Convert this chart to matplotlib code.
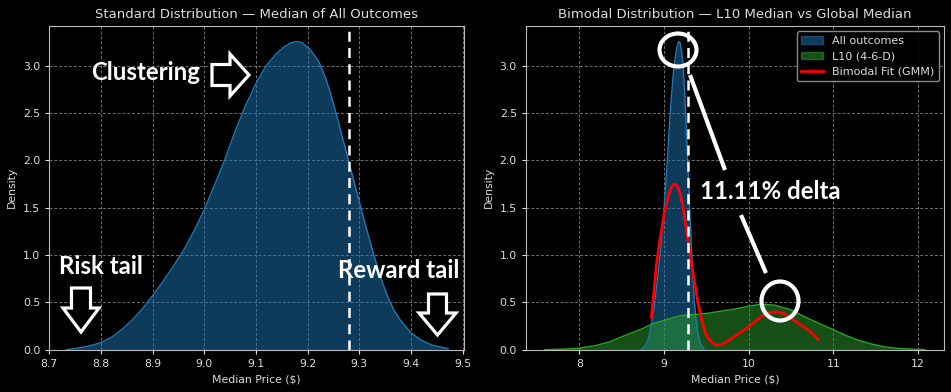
import numpy as np
import matplotlib.pyplot as plt
from matplotlib.patches import Polygon, Ellipse, Patch
from matplotlib.lines import Line2D

plt.style.use("dark_background")

# KDE of the median price, all outcomes
all_x = [8.733, 8.75, 8.769, 8.785, 8.80, 8.82, 8.84, 8.86, 8.88, 8.90, 8.92, 8.94, 8.96,
         8.98, 9.00, 9.02, 9.04, 9.06, 9.08, 9.10, 9.12, 9.14, 9.155, 9.17, 9.18, 9.19,
         9.205, 9.222, 9.235, 9.247, 9.259, 9.271, 9.283, 9.295, 9.307, 9.319, 9.331,
         9.343, 9.355, 9.367, 9.38, 9.40, 9.42, 9.44, 9.46, 9.472]
all_y = [0.0, 0.012, 0.03, 0.05, 0.075, 0.13, 0.21, 0.31, 0.43, 0.57, 0.72, 0.88, 1.05,
         1.25, 1.48, 1.74, 2.01, 2.31, 2.58, 2.81, 3.00, 3.13, 3.20, 3.245, 3.255, 3.24,
         3.17, 3.04, 2.87, 2.66, 2.42, 2.17, 1.92, 1.67, 1.42, 1.18, 0.95,
         0.74, 0.56, 0.42, 0.31, 0.18, 0.10, 0.05, 0.025, 0.012]

# KDE of the L10 (4-6-D) subset
l10_x = [7.59, 7.8, 8.0, 8.2, 8.35, 8.54, 8.74, 8.86, 9.0, 9.2, 9.52, 9.84, 10.0, 10.15,
         10.31, 10.5, 10.7, 10.85, 11.0, 11.15, 11.29, 11.45, 11.6, 11.8, 12.08]
l10_y = [0.0, 0.005, 0.015, 0.045, 0.08, 0.15, 0.22, 0.27, 0.31, 0.36, 0.385, 0.43, 0.46,
         0.48, 0.47, 0.42, 0.33, 0.27, 0.21, 0.15, 0.10, 0.06, 0.03, 0.01, 0.0]

# two-component GMM fit
gmm_x = [8.85, 8.88, 8.91, 8.95, 9.0, 9.05, 9.08, 9.10, 9.12, 9.14, 9.16, 9.19, 9.22,
         9.26, 9.32, 9.36, 9.40, 9.45, 9.49, 9.54, 9.58, 9.62, 9.66, 9.70, 9.75, 9.8,
         9.9, 10.0, 10.08, 10.15, 10.25, 10.33, 10.42, 10.5, 10.6, 10.7, 10.82]
gmm_y = [0.34, 0.60, 0.89, 1.15, 1.42, 1.62, 1.70, 1.73, 1.75, 1.745, 1.72, 1.65, 1.53,
         1.30, 0.95, 0.72, 0.50, 0.30, 0.17, 0.10, 0.07, 0.05, 0.05, 0.06, 0.09, 0.12,
         0.18, 0.24, 0.30, 0.35, 0.39, 0.40, 0.38, 0.33, 0.27, 0.21, 0.11]

global_median = 9.28

blue = "#1f77b4"
green = "#2ca02c"
lab_fs = 7.8

fig = plt.figure(figsize=(9.51, 3.92), dpi=100)
ax1 = fig.add_axes([0.0518, 0.108, 0.4362, 0.826])
ax2 = fig.add_axes([0.553, 0.108, 0.440, 0.826])

for ax in (ax1, ax2):
    ax.grid(True, linestyle=(0, (3, 2)), color="#cccccc", alpha=0.55, linewidth=0.7)
    ax.set_axisbelow(True)
    ax.tick_params(labelsize=lab_fs, length=3, colors="#dddddd")
    for s in ax.spines.values():
        s.set_color("#bbbbbb")
    ax.set_xlabel("Median Price ($)", fontsize=lab_fs, color="#dddddd")
    ax.set_ylabel("Density", fontsize=lab_fs, color="#dddddd")

# left panel
ax1.fill_between(all_x, all_y, color=blue, alpha=0.5, linewidth=0)
ax1.plot(all_x, all_y, color=blue, linewidth=1)
ax1.axvline(global_median, color="white", linestyle="--", linewidth=1.8, dashes=(4, 2.5))
ax1.set_xlim(8.7, 9.503)
ax1.set_ylim(0, 3.42)
ax1.set_title("Standard Distribution \u2014 Median of All Outcomes", fontsize=9.5, color="#dddddd")

# right panel
ax2.fill_between(all_x, all_y, color=blue, alpha=0.5, linewidth=0)
ax2.plot(all_x, all_y, color=blue, linewidth=1)
ax2.fill_between(l10_x, l10_y, color=green, alpha=0.5, linewidth=0)
ax2.plot(l10_x, l10_y, color=green, linewidth=1)
ax2.plot(gmm_x, gmm_y, color="red", linewidth=2)
ax2.axvline(global_median, color="white", linestyle="--", linewidth=1.8, dashes=(4, 2.5))
ax2.set_xlim(7.37, 12.31)
ax2.set_ylim(0, 3.42)
ax2.set_title("Bimodal Distribution \u2014 L10 Median vs Global Median", fontsize=9.5, color="#dddddd")

leg_handles = [Patch(facecolor=blue, alpha=0.5, edgecolor=blue),
               Patch(facecolor=green, alpha=0.5, edgecolor=green),
               Line2D([], [], color="red", linewidth=2)]
leg = ax2.legend(leg_handles, ["All outcomes", "L10 (4-6-D)", "Bimodal Fit (GMM)"],
                 loc="upper right", fontsize=8.0, framealpha=0.9, facecolor="black",
                 edgecolor="#999999")
for t in leg.get_texts():
    t.set_color("#dddddd")

# hand-drawn annotations in figure pixel coordinates
ov = fig.add_axes([0, 0, 1, 1], facecolor="none")
ov.set_xlim(0, 951)
ov.set_ylim(392, 0)
ov.axis("off")

ann = dict(color="white", fontweight="bold", family="Lato", fontsize=17.3, va="center")
ov.text(91, 72, "Clustering", ha="left", **ann)
ov.text(59, 267, "Risk tail", ha="left", **ann)
ov.text(338, 271, "Reward tail", ha="left", **ann)
ov.text(700, 191, "11.11% delta", ha="left", **ann)


def right_arrow(x0, yc, shaft_len, shaft_h, head_len, head_h):
    return [(x0, yc - shaft_h / 2), (x0 + shaft_len, yc - shaft_h / 2),
            (x0 + shaft_len, yc - head_h / 2), (x0 + shaft_len + head_len, yc),
            (x0 + shaft_len, yc + head_h / 2), (x0 + shaft_len, yc + shaft_h / 2),
            (x0, yc + shaft_h / 2)]


def down_arrow(xc, y0, shaft_len, shaft_w, head_len, head_w):
    return [(xc - shaft_w / 2, y0), (xc + shaft_w / 2, y0), (xc + shaft_w / 2, y0 + shaft_len),
            (xc + head_w / 2, y0 + shaft_len), (xc, y0 + shaft_len + head_len),
            (xc - head_w / 2, y0 + shaft_len), (xc - shaft_w / 2, y0 + shaft_len)]


arrow_kw = dict(closed=True, facecolor="black", edgecolor="white", linewidth=2.3, joinstyle="miter")
ov.add_patch(Polygon(right_arrow(212, 75, 18, 21, 19, 42), **arrow_kw))
ov.add_patch(Polygon(down_arrow(81, 288, 20, 19, 24, 36), **arrow_kw))
ov.add_patch(Polygon(down_arrow(437.5, 294, 19, 18, 22, 37), **arrow_kw))

ov.add_patch(Ellipse((678, 50), 37, 33, facecolor="none", edgecolor="white", linewidth=3))
ov.add_patch(Ellipse((780, 301), 37, 39, facecolor="none", edgecolor="white", linewidth=3))
ov.plot([690, 725], [75, 170], color="white", linewidth=3, solid_capstyle="butt")
ov.plot([741, 766], [215, 273], color="white", linewidth=3, solid_capstyle="butt")

fig.savefig("out.png", dpi=100, facecolor="black")
